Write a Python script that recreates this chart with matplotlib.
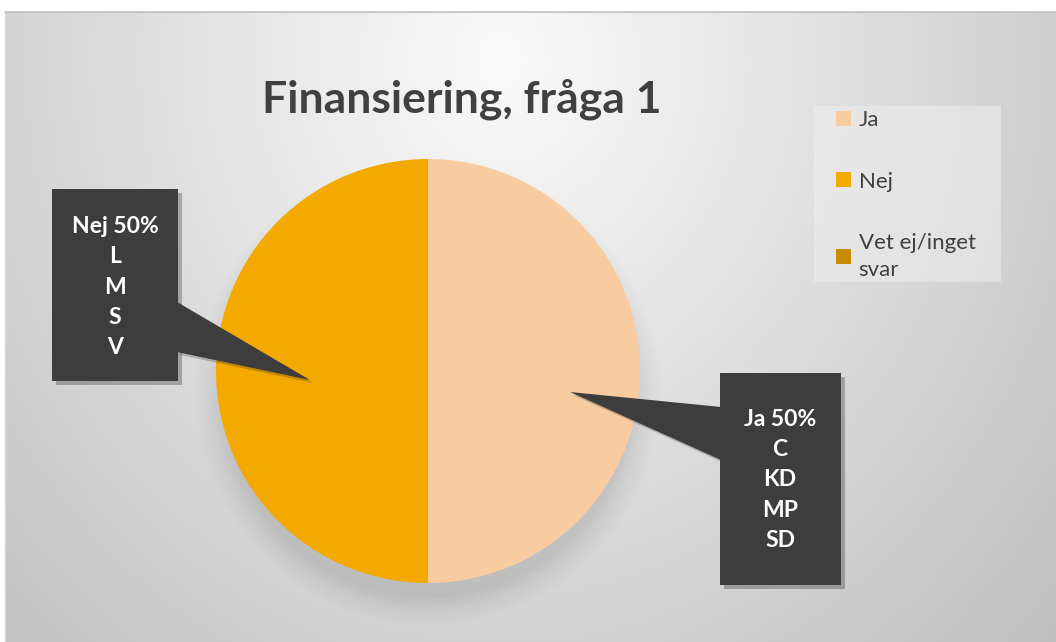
import numpy as np
import matplotlib
matplotlib.use("Agg")
import matplotlib.pyplot as plt
from matplotlib.patches import Polygon, Rectangle, Ellipse
import textwrap

# ---- data ----
title = "Finansiering, fråga 1"
categories = ["Ja", "Nej", "Vet ej/inget svar"]
values = [50, 50, 0]
colors = ["#F8CBA0", "#F3A900", "#C68B00"]
parties_ja = ["C", "KD", "MP", "SD"]
parties_nej = ["L", "M", "S", "V"]

W, H = 1056, 642
fig = plt.figure(figsize=(W / 100, H / 100), dpi=100)
fig.patch.set_facecolor("white")
plt.rcParams["hatch.color"] = "#474747"
plt.rcParams["hatch.linewidth"] = 0.6

# background axes in pixel coordinates (y down)
bg = fig.add_axes([0, 0, 1, 1])
bg.set_xlim(0, W)
bg.set_ylim(H, 0)
bg.axis("off")

x0, y0 = 5, 12
xx, yy = np.meshgrid(np.arange(x0, W), np.arange(y0, H))
d = np.sqrt(((xx - 500) / 800.0) ** 2 + ((yy - 60) / 900.0) ** 2)
v = np.clip(250 - 62 * d, 190, 250) / 255.0
img = np.dstack([v, v, v])
bg.imshow(img, extent=[x0, W, H, y0], zorder=0, interpolation="bilinear", aspect="auto")
bg.plot([x0, W], [y0, y0], color="#c0c0c0", lw=1.2, zorder=1)
bg.plot([x0, x0], [y0, H], color="#d8d8d8", lw=1.0, zorder=1)

# soft pie shadow (below the pie)
cx, cy, r = 428, 371, 212
for i, a in enumerate(np.linspace(0.006, 0.012, 10)):
    rr = r + 20 - i * 3
    bg.add_patch(Ellipse((cx, cy + 22), 2 * rr, 2 * rr, color="black", alpha=a, lw=0, zorder=1))

bg.text(462, 99, title, ha="center", va="center", fontsize=32, fontweight="bold",
        color="#404040", family="Lato", zorder=5)

# pie
pax = fig.add_axes([216 / W, 1 - 583 / H, 424 / W, 424 / H])
wedges, _ = pax.pie(values, colors=colors, startangle=90, counterclock=False,
                    radius=1, wedgeprops=dict(linewidth=0))
pax.set_xlim(-1, 1)
pax.set_ylim(-1, 1)
pax.set_aspect("equal")
pax.axis("off")

# overlay axes for legend frame and callouts
ov = fig.add_axes([0, 0, 1, 1])
ov.set_xlim(0, W)
ov.set_ylim(H, 0)
ov.axis("off")
ov.patch.set_alpha(0)

ov.add_patch(Rectangle((814, 106), 187, 176, facecolor="#eeeeee", alpha=0.55, lw=0, zorder=2))

leg_labels = [textwrap.fill(c, 12) for c in categories]
leg = fig.legend(wedges, leg_labels, loc="upper left",
                 bbox_to_anchor=(832 / W, 1 - 106 / H), frameon=False,
                 labelcolor="#404040", handlelength=0.65,
                 handleheight=0.65, handletextpad=0.35, labelspacing=1.85,
                 borderpad=0.2, borderaxespad=0, prop={"family": "Lato", "size": 16})
for t in leg.get_texts():
    t.set_linespacing(1.45)

box_col = "#3d3d3d"

def callout(rect, ptr, text, tx, ty):
    (bx0, by0, bx1, by1) = rect
    ov.add_patch(Rectangle((bx0 + 4, by0 + 4), bx1 - bx0, by1 - by0, color="black",
                           alpha=0.25, lw=0, zorder=6))
    ov.add_patch(Polygon([(p[0] + 3, p[1] + 3) for p in ptr], closed=True, color="black",
                         alpha=0.2, lw=0, zorder=6))
    ov.add_patch(Rectangle((bx0, by0), bx1 - bx0, by1 - by0, facecolor=box_col,
                           edgecolor="none", hatch="..", zorder=7))
    ov.add_patch(Polygon(ptr, closed=True, facecolor=box_col, edgecolor="none",
                         hatch="..", zorder=7))
    ov.text(tx, ty, text, ha="center", va="center", color="white", fontsize=16.5,
            fontweight="bold", family="Lato", linespacing=1.55, zorder=8)

tot = sum(values)
nej_text = f"{categories[1]} {values[1] / tot * 100:.0f}%\n" + "\n".join(parties_nej)
ja_text = f"{categories[0]} {values[0] / tot * 100:.0f}%\n" + "\n".join(parties_ja)
callout((52, 189, 178, 381), [(177, 302), (310, 380), (177, 352)], nej_text, 115, 287)
callout((720, 373, 841, 585), [(721, 407), (570, 392), (721, 460)], ja_text, 780, 480)

fig.savefig("out.png", dpi=100, facecolor="white")
